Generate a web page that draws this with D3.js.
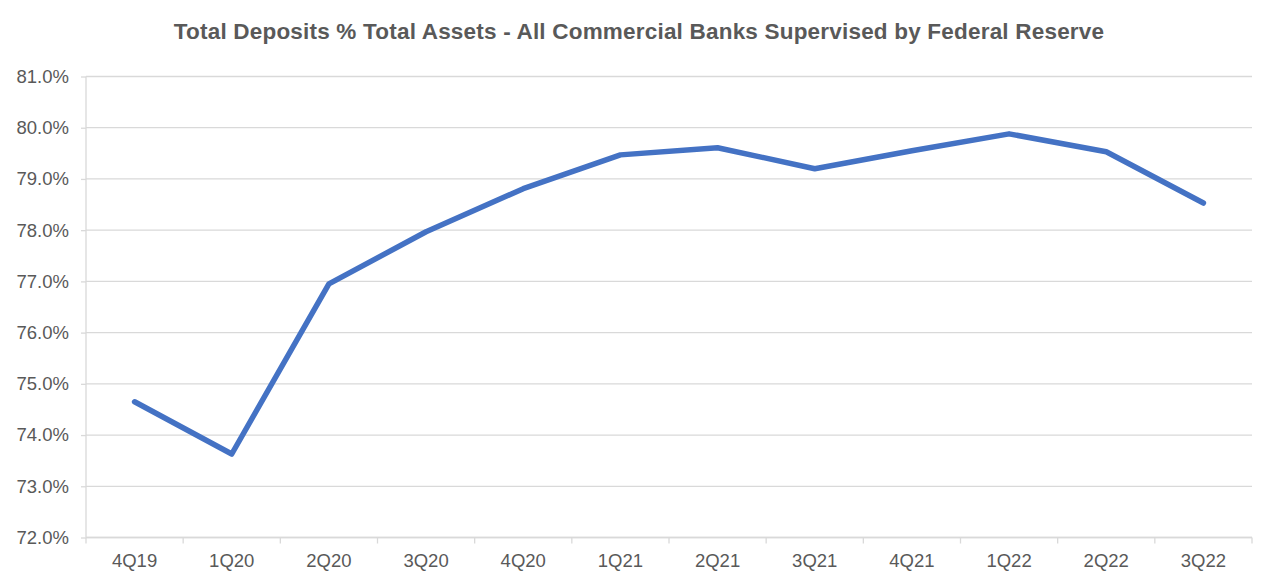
<!DOCTYPE html>
<html>
<head>
<meta charset="utf-8">
<script src="https://cdn.jsdelivr.net/npm/d3@7"></script>
<style>
  body { margin: 0; background: #fff; }
  text { font-family: "Liberation Sans", Arial, sans-serif; }
</style>
</head>
<body>
<svg id="chart" width="1280" height="586"></svg>
<script>
var quarters = ["4Q19","1Q20","2Q20","3Q20","4Q20","1Q21","2Q21","3Q21","4Q21","1Q22","2Q22","3Q22"];
var depositsPct = [74.65, 73.63, 76.95, 77.97, 78.81, 79.47, 79.61, 79.20, 79.55, 79.88, 79.53, 78.53];
var yTicks = [72, 73, 74, 75, 76, 77, 78, 79, 80, 81];

var margin = {top: 76.5, right: 28, bottom: 48.5, left: 86}
  , width = 1280
  , height = 586
  , gray = "#595959"
  , grid = "#d9d9d9";

var svg = d3.select("#chart");
var g = svg.append("g").attr("transform", "translate(" + margin.left + "," + margin.top + ")");
var w = width - margin.left - margin.right
  , h = height - margin.top - margin.bottom;

var x = d3.scaleBand().domain(quarters).range([0, w]);
var y = d3.scaleLinear().domain([72, 81]).range([h, 0]);

// gridlines
g.selectAll(".grid").data(yTicks).enter().append("line")
    .attr("x1", 0).attr("x2", w)
    .attr("y1", function(d) { return y(d); })
    .attr("y2", function(d) { return y(d); })
    .style("stroke", grid)
    .style("stroke-width", 1.3);

// y axis
var yAxis = g.append("g")
    .call(d3.axisLeft(y).tickValues(yTicks).tickSize(5).tickPadding(12)
      .tickFormat(function(d) { return d.toFixed(1) + "%"; }));
yAxis.selectAll("line").style("stroke", grid).style("stroke-width", 1.3);
yAxis.select(".domain").style("stroke", grid).style("stroke-width", 1.3).attr("d", "M0," + h + "V0");
yAxis.selectAll("text").style("fill", gray).style("font-size", "18.5px")
    .style("font-family", "'Liberation Sans', Arial, sans-serif");

// x axis with ticks at band boundaries
var xAxis = g.append("g").attr("transform", "translate(0," + h + ")");
xAxis.append("line").attr("x1", 0).attr("x2", w)
    .style("stroke", grid).style("stroke-width", 1.3);
var bounds = quarters.map(function(q) { return x(q); }).concat([w]);
xAxis.selectAll(".xt").data(bounds).enter().append("line")
    .attr("x1", function(d) { return d; }).attr("x2", function(d) { return d; })
    .attr("y1", 0).attr("y2", 6)
    .style("stroke", grid).style("stroke-width", 1.3);
xAxis.selectAll(".xl").data(quarters).enter().append("text")
    .attr("x", function(d) { return x(d) + x.bandwidth() / 2; })
    .attr("y", 23)
    .attr("dy", "0.35em")
    .style("text-anchor", "middle")
    .style("fill", gray)
    .style("font-size", "18.5px")
    .text(function(d) { return d; });

// line
var line = d3.line()
    .x(function(d, i) { return x(quarters[i]) + x.bandwidth() / 2; })
    .y(function(d) { return y(d); });

g.append("path")
    .datum(depositsPct)
    .attr("d", line)
    .style("fill", "none")
    .style("stroke", "#4472c4")
    .style("stroke-width", 5.5)
    .style("stroke-linecap", "round")
    .style("stroke-linejoin", "round");

// title
svg.append("text")
    .attr("x", 639)
    .attr("y", 39)
    .style("text-anchor", "middle")
    .style("font-weight", "bold")
    .style("font-size", "22.5px")
    .style("letter-spacing", "0.2px")
    .style("fill", gray)
    .text("Total Deposits % Total Assets - All Commercial Banks Supervised by Federal Reserve");
</script>
</body>
</html>
